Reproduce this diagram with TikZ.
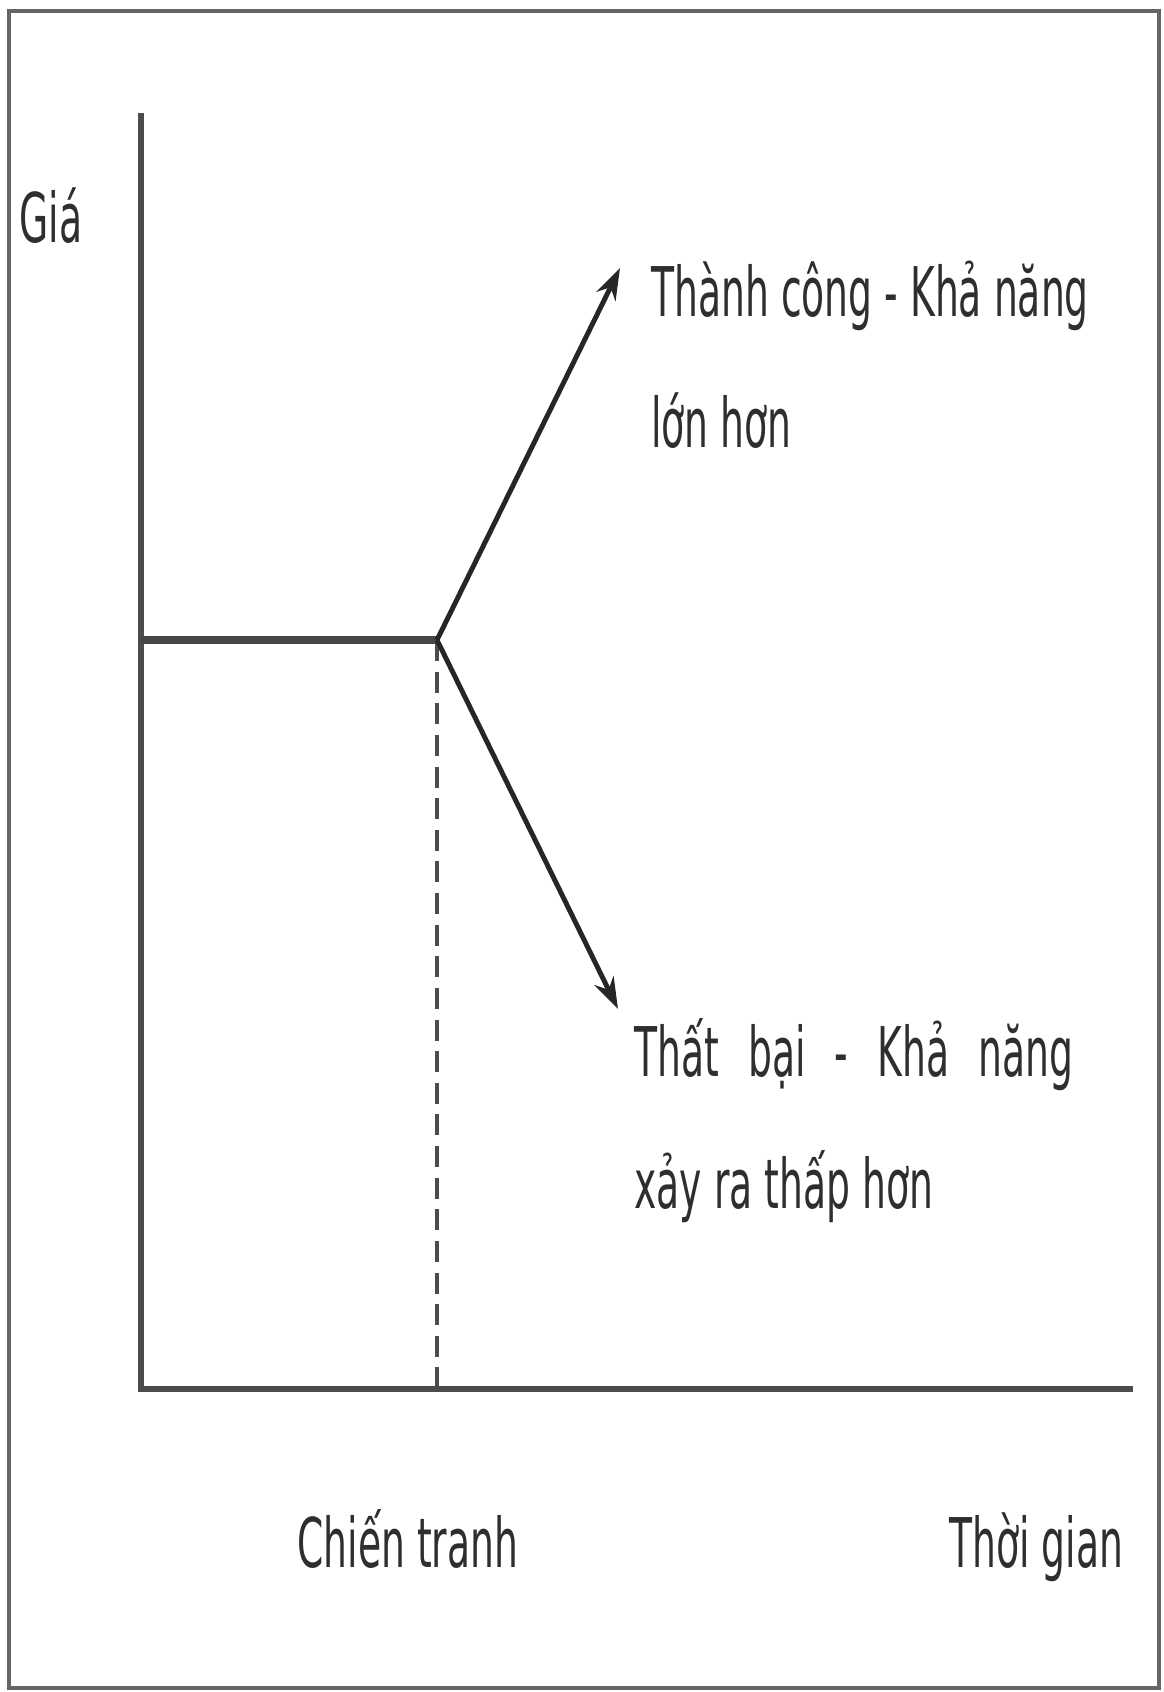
\documentclass[tikz,border=0pt]{standalone}
\usepackage{fontspec}
\newfontfamily\lblfont[FakeStretch=0.55]{DejaVu Sans}
\usetikzlibrary{arrows.meta}
\begin{document}
\begin{tikzpicture}[x=0.02cm,y=-0.02cm,
  axis/.style={line width=3.2pt, draw=black!70},
  level/.style={line width=4.8pt, draw=black!72},
  branch/.style={line width=2.8pt, draw=black!85, -{Stealth[length=18pt,width=12pt]}},
  guide/.style={line width=2pt, draw=black!70, dash pattern=on 12pt off 6pt},
  lbl/.style={font=\lblfont\fontsize{39}{75}\selectfont, text=black!82, inner sep=0pt, anchor=base west}]
\useasboundingbox (0,0) rectangle (1163,1692);
\draw[line width=2.8pt, draw=black!60] (9,11) rectangle (1159,1688);
\coordinate (O) at (141,1389);
\coordinate (ytop) at (141,113);
\coordinate (xend) at (1133,1389);
\coordinate (start) at (141,640);
\coordinate (K) at (437,640);
\coordinate (Kb) at (437,1389);
\coordinate (up) at (620,268);
\coordinate (down) at (618,1009);
\draw[axis] (ytop) -- (O) -- (xend);
\draw[level] (start) -- (K);
\draw[guide] (K) -- (Kb);
\draw[branch] (K) -- (up);
\draw[branch] (K) -- (down);
\node[lbl] (gia) at (19,243) {Giá};
\node[lbl, align=left] (succ) at (651,448) {Thành công - Khả năng\\lớn hơn};
\node[lbl, align=left] (fail) at (634,1208) {\makebox[8.78cm][s]{Thất bại - Khả năng}\\xảy ra thấp hơn};
\node[lbl] (war) at (297,1567) {Chiến tranh};
\node[lbl] (time) at (949,1567) {Thời gian};
\end{tikzpicture}
\end{document}
